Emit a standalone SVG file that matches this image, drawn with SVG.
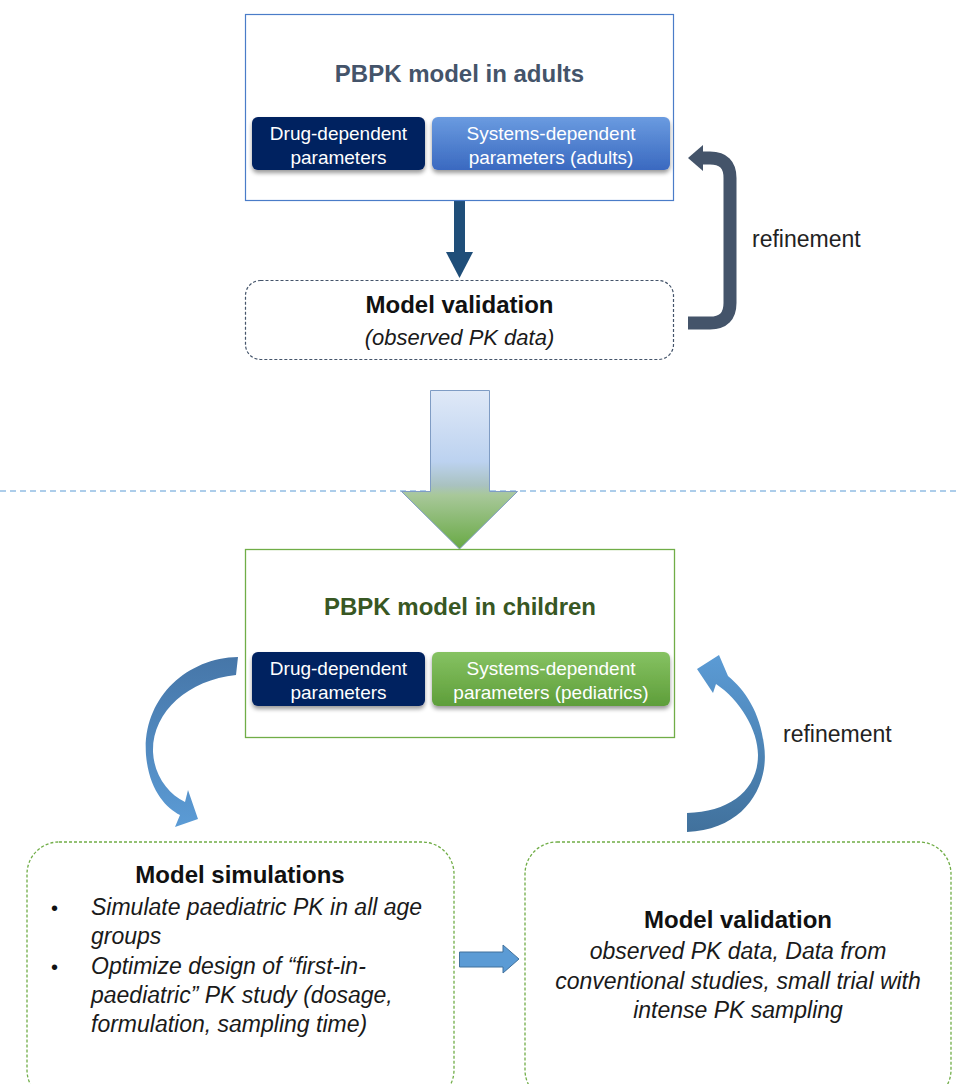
<svg xmlns="http://www.w3.org/2000/svg" width="960" height="1084" viewBox="0 0 960 1084">
<defs>
<style>
.t{font-family:"Liberation Sans",Arial,sans-serif}
.title{font-size:24px;font-weight:bold;text-anchor:middle}
.sub{font-size:19px;fill:#fff;text-anchor:middle}
.it{font-size:22px;font-style:italic;fill:#1a1a1a}
.it2{font-size:23px;font-style:italic;fill:#1a1a1a}
.ref{font-size:23px;fill:#222}
.dashg{fill:#fff;stroke:#70AD47;stroke-width:1.3;stroke-dasharray:3 2}
</style>
<linearGradient id="gBlue" x1="0" y1="0" x2="0" y2="1">
<stop offset="0" stop-color="#6A9BE0"/><stop offset="1" stop-color="#3A69C0"/>
</linearGradient>
<linearGradient id="gGreen" x1="0" y1="0" x2="0" y2="1">
<stop offset="0" stop-color="#86C262"/><stop offset="1" stop-color="#5E9E3A"/>
</linearGradient>
<linearGradient id="gBig" gradientUnits="userSpaceOnUse" x1="0" y1="390" x2="0" y2="549">
<stop offset="0" stop-color="#E0E9F7"/><stop offset="0.45" stop-color="#BCD2F0"/><stop offset="0.6" stop-color="#A9C2C0"/><stop offset="0.66" stop-color="#A8C89A"/><stop offset="1" stop-color="#68A944"/>
</linearGradient>
<linearGradient id="gCurveL" gradientUnits="userSpaceOnUse" x1="0" y1="657" x2="0" y2="826">
<stop offset="0" stop-color="#4676A8"/><stop offset="1" stop-color="#5B9BD5"/>
</linearGradient>
<linearGradient id="gCurveR" gradientUnits="userSpaceOnUse" x1="0" y1="655" x2="0" y2="832">
<stop offset="0" stop-color="#5B9BD5"/><stop offset="1" stop-color="#41719C"/>
</linearGradient>
<filter id="sh" x="-10%" y="-20%" width="120%" height="150%">
<feDropShadow dx="0" dy="3" stdDeviation="2" flood-color="#000" flood-opacity="0.4"/>
</filter>
</defs>
<rect width="960" height="1084" fill="#fff"/>

<g id="connectors">
<line x1="0" y1="491" x2="960" y2="491" stroke="#5B9BD5" stroke-width="1" stroke-dasharray="6 4"/>
<path d="M430.5 390.5 H489.5 V491.5 H517.5 L459.5 549 L401.5 491.5 H430.5 Z" fill="url(#gBig)" stroke="#7F9CC4" stroke-width="1"/>
<rect x="454" y="200" width="11" height="54" fill="#1F4E79"/>
<polygon points="446,252 473,252 459.5,278" fill="#1F4E79"/>
<path d="M688 323 H710 Q730 323 730 303 V178 Q730 158 710 158 H702" fill="none" stroke="#44546A" stroke-width="13"/>
<polygon points="688,158 703,145 703,171" fill="#44546A"/>
<path d="M238 657 C185 658 142 700 146 755 C149 790 166 808 180 815 L175 827 L198 819 L188 790 L185 802 C168 794 154 775 153 752 C152 712 188 680 236 675 Z" fill="url(#gCurveL)"/>
<path d="M687 832 C745 830 770 785 764 745 C760 712 745 690 728 676 L719 655 L697 669 L713 693 L716 684 C740 700 758 730 758 755 C758 790 730 812 687 813 Z" fill="url(#gCurveR)"/>
<polygon points="459.5,952 503,952 503,945 519,959 503,973 503,967 459.5,967" fill="#5B9BD5" stroke="#41719C" stroke-width="1"/>
<text class="t ref" x="752" y="247">refinement</text>
<text class="t ref" x="783" y="742">refinement</text>
</g>

<g id="adult-model">
<rect x="245.5" y="14.5" width="428" height="186" fill="#fff" stroke="#4A7CC8" stroke-width="1.2"/>
<text class="t title" x="459.5" y="82" fill="#44546A">PBPK model in adults</text>
<g id="adult-drug">
<rect x="252" y="117" width="173" height="53" rx="6" fill="#002060" filter="url(#sh)"/>
<text class="t sub" x="338.5" y="140">Drug-dependent</text>
<text class="t sub" x="338.5" y="164">parameters</text>
</g>
<g id="adult-systems">
<rect x="432" y="117" width="238" height="53" rx="6" fill="url(#gBlue)" filter="url(#sh)"/>
<text class="t sub" x="551" y="140">Systems-dependent</text>
<text class="t sub" x="551" y="164">parameters (adults)</text>
</g>
</g>

<g id="adult-validation">
<rect x="245.5" y="280.5" width="428" height="79" rx="15" fill="#fff" stroke="#44546A" stroke-width="1.2" stroke-dasharray="3 2"/>
<text class="t title" x="459.5" y="313" fill="#111">Model validation</text>
<text class="t it" x="459.5" y="345" text-anchor="middle">(observed PK data)</text>
</g>

<g id="child-model">
<rect x="245.5" y="549.5" width="429" height="188" fill="#fff" stroke="#70AD47" stroke-width="1.3"/>
<text class="t title" x="460" y="615" fill="#385723">PBPK model in children</text>
<g id="child-drug">
<rect x="252" y="652" width="173" height="54" rx="6" fill="#002060" filter="url(#sh)"/>
<text class="t sub" x="338.5" y="675">Drug-dependent</text>
<text class="t sub" x="338.5" y="699">parameters</text>
</g>
<g id="child-systems">
<rect x="432" y="652" width="238" height="54" rx="6" fill="url(#gGreen)" filter="url(#sh)"/>
<text class="t sub" x="551" y="675">Systems-dependent</text>
<text class="t sub" x="551" y="699">parameters (pediatrics)</text>
</g>
</g>

<g id="simulations">
<rect class="dashg" x="27" y="842" width="427" height="260" rx="32"/>
<text class="t title" x="240" y="883" fill="#111">Model simulations</text>
<text class="t" x="51" y="915" font-size="20" fill="#111">•</text>
<text class="t" x="51" y="974" font-size="20" fill="#111">•</text>
<text class="t it2" x="91" y="915">Simulate paediatric PK in all age</text>
<text class="t it2" x="91" y="944">groups</text>
<text class="t it2" x="91" y="974">Optimize design of “first-in-</text>
<text class="t it2" x="91" y="1003">paediatric” PK study (dosage,</text>
<text class="t it2" x="91" y="1032">formulation, sampling time)</text>
</g>

<g id="child-validation">
<rect class="dashg" x="525" y="842" width="426" height="260" rx="32"/>
<text class="t title" x="738" y="928" fill="#111">Model validation</text>
<text class="t it2" x="738" y="959" text-anchor="middle">observed PK data, Data from</text>
<text class="t it2" x="738" y="989" text-anchor="middle">conventional studies, small trial with</text>
<text class="t it2" x="738" y="1018" text-anchor="middle">intense PK sampling</text>
</g>
</svg>
